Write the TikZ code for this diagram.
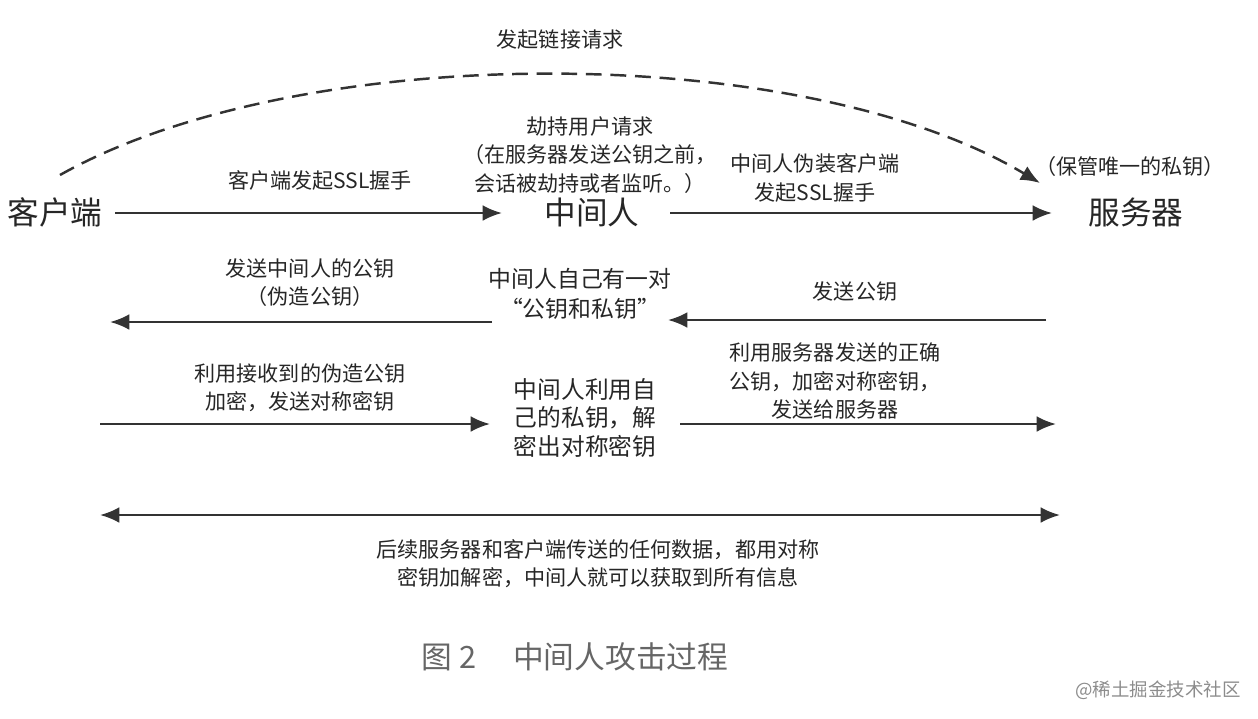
\documentclass[tikz,border=0pt]{standalone}
\usepackage{fontspec}
\setmainfont{Noto Sans CJK SC}
\usetikzlibrary{arrows.meta}

\tikzset{
  party/.style={font=\fontsize{18}{20}\selectfont, text=black!85},
  note/.style={font=\fontsize{12}{16}\selectfont, text=black!85, align=center},
  msg/.style={line width=1.4pt, draw=black!80, -{Latex[length=11pt,width=9pt]}},
}

\begin{document}
\begin{tikzpicture}[x=0.02cm, y=-0.02cm]
  \useasboundingbox (0,0) rectangle (1258,718);

  % --- los tres actores ---
  \node[party] (client) at (55,212) {客户端};
  \node[party] (mitm) at (592,212) {中间人};
  \node[party] (server) at (1136,212) {服务器};

  % --- puntos extremos de las flechas ---
  \coordinate (c1) at (115,213);
  \coordinate (m1) at (502,213);
  \coordinate (m2) at (670,213);
  \coordinate (s1) at (1052,213);
  \coordinate (s2) at (1046,320);
  \coordinate (m3) at (668,320);
  \coordinate (m4) at (492,322);
  \coordinate (c2) at (110,322);
  \coordinate (c3) at (100,424);
  \coordinate (m5) at (490,424);
  \coordinate (m6) at (680,424);
  \coordinate (s3) at (1056,424);
  \coordinate (c4) at (100,515);
  \coordinate (s4) at (1060,515);
  \coordinate (arcA) at (60,175);
  \coordinate (arcB) at (1040,183);

  % --- peticion de enlace (arco discontinuo) ---
  \draw[msg, dashed, dash pattern=on 9pt off 5pt] (arcA) .. controls (300,40) and (800,40) .. (arcB);
  \node[note] (req) at (560,40) {发起链接请求};
  \node[note] (keep) at (1130,166) {（保管唯一的私钥）};

  % --- fila 1: saludo SSL ---
  \draw[msg] (c1) -- (m1);
  \node[note] (hs1) at (320,180) {客户端发起SSL握手};
  \draw[msg] (m2) -- (s1);
  \node[note] (hs2) at (815,178) {中间人伪装客户端\\发起SSL握手};
  \node[note] (hijack) at (590,155) {劫持用户请求\\（在服务器发送公钥之前，\\会话被劫持或者监听。）};

  % --- fila 2: clave publica ---
  \draw[msg] (s2) -- (m3);
  \node[note] (pk1) at (855,291) {发送公钥};
  \node[note, font=\fontsize{13}{17}\selectfont] (own) at (580,294) {中间人自己有一对\\“公钥和私钥”};
  \draw[msg] (m4) -- (c2);
  \node[note] (pk2) at (310,283) {发送中间人的公钥\\（伪造公钥）};

  % --- fila 3: clave simetrica ---
  \draw[msg] (c3) -- (m5);
  \node[note] (sym1) at (300,388) {利用接收到的伪造公钥\\加密，发送对称密钥};
  \node[note, align=left, font=\fontsize{13.5}{16}\selectfont] (dec) at (585,418) {中间人利用自\\己的私钥，解\\密出对称密钥};
  \draw[msg] (m6) -- (s3);
  \node[note] (sym2) at (835,381) {利用服务器发送的正确\\公钥，加密对称密钥，\\发送给服务器};

  % --- fila 4: datos posteriores ---
  \draw[msg, {Latex[length=11pt,width=9pt]}-{Latex[length=11pt,width=9pt]}] (c4) -- (s4);
  \node[note] (data) at (598,564) {后续服务器和客户端传送的任何数据，都用对称\\密钥加解密，中间人就可以获取到所有信息};

  % --- pie ---
  \node[font=\fontsize{17.5}{20}\selectfont, text=black!60] (cap) at (575,657) {图 2\hspace{1.2em}中间人攻击过程};
  \node[font=\fontsize{10.5}{12}\selectfont, text=black!45] (mark) at (1158,690) {@稀土掘金技术社区};
\end{tikzpicture}
\end{document}
